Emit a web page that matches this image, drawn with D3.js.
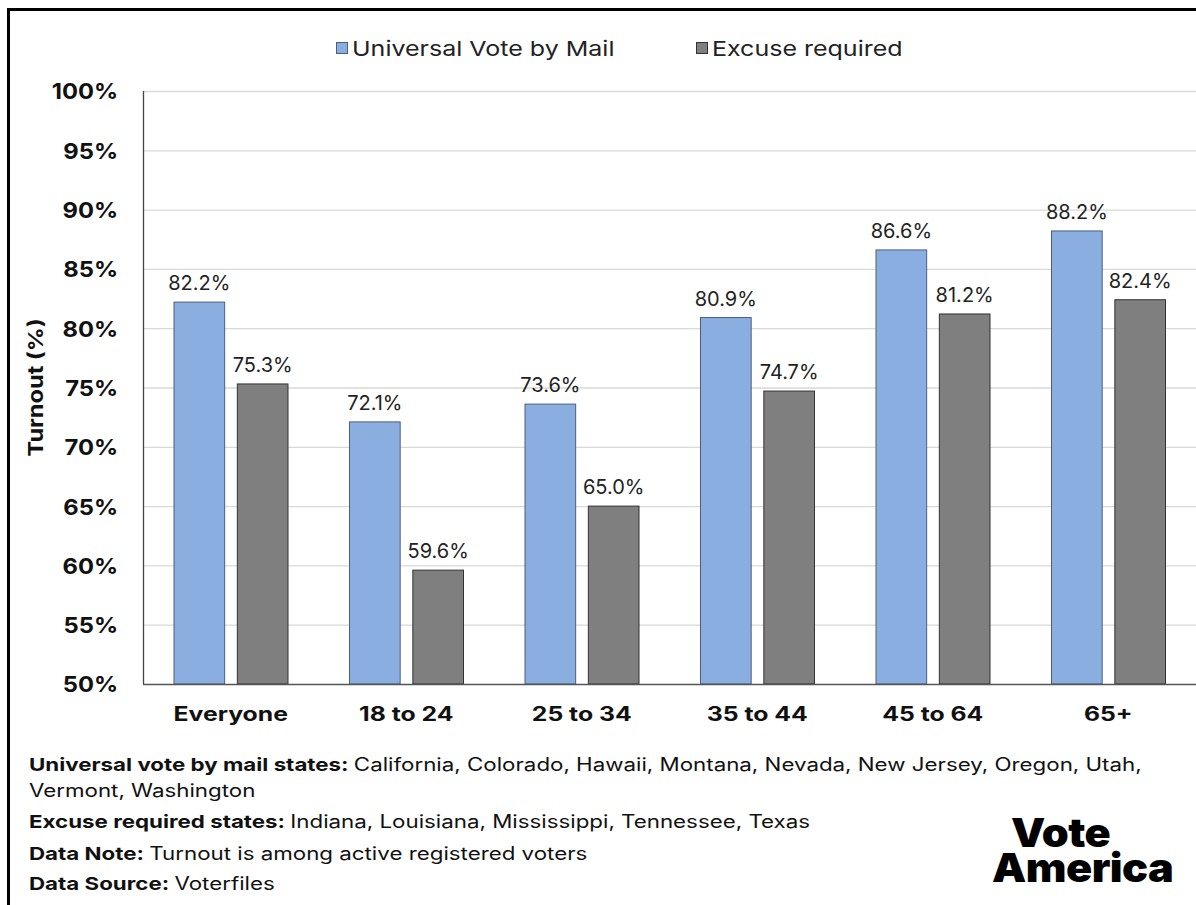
<!DOCTYPE html>
<html>
<head>
<meta charset="utf-8">
<script src="https://cdn.jsdelivr.net/npm/d3@7"></script>
<style>
  body { margin: 0; background: #fff; }
  svg text { font-family: Inter, "Noto Sans", Arial, sans-serif; }
</style>
</head>
<body>
<div id="chart"></div>
<script>
// chart data
const categories = ["Everyone", "18 to 24", "25 to 34", "35 to 44", "45 to 64", "65+"];
const seriesNames = ["Universal Vote by Mail", "Excuse required"];
const universalVbm = [82.2, 72.1, 73.6, 80.9, 86.6, 88.2];
const excuseRequired = [75.3, 59.6, 65.0, 74.7, 81.2, 82.4];
const yTicks = [50, 55, 60, 65, 70, 75, 80, 85, 90, 95, 100];
const seriesColors = ["#8aaee0", "#7f7f7f"];

const notes = [
  ["Universal vote by mail states: ", "California, Colorado, Hawaii, Montana, Nevada, New Jersey, Oregon, Utah,"],
  ["", "Vermont, Washington"],
  ["Excuse required states: ", "Indiana, Louisiana, Mississippi, Tennessee, Texas"],
  ["Data Note: ", "Turnout is among active registered voters"],
  ["Data Source: ", "Voterfiles"]
];

const W = 1196, H = 905;
const margin = { top: 91, right: 0, bottom: 221, left: 143 };
const plotW = W - margin.left - margin.right;
const plotH = H - margin.top - margin.bottom;

// source image is a bit stretched sideways, so text gets a horizontal scale
function wideText(parent, x, y, sx) {
    return parent.append("g")
        .attr("transform", `translate(${x},${y}) scale(${sx},1)`)
        .append("text");
}

const svg = d3.select("#chart").append("svg")
    .attr("width", W)
    .attr("height", H);

// outer frame (cut at right and bottom like the source image)
svg.append("rect")
    .attr("x", 8.5).attr("y", 9.5)
    .attr("width", W + 20).attr("height", H + 20)
    .attr("fill", "none")
    .attr("stroke", "#000")
    .attr("stroke-width", 3);

const g = svg.append("g").attr("transform", `translate(${margin.left},${margin.top})`);

const x0 = d3.scaleBand().domain(categories).range([0, plotW]).paddingInner(0).paddingOuter(0);
const x1 = d3.scaleBand().domain(seriesNames).range([31, 145]).paddingInner(0.2);
const y = d3.scaleLinear().domain([50, 100]).range([plotH, 0]);

// gridlines
g.selectAll(".grid")
    .data(yTicks.slice(1))
    .enter().append("line")
    .attr("x1", 0).attr("x2", plotW)
    .attr("y1", d => y(d) + 0.5).attr("y2", d => y(d) + 0.5)
    .attr("stroke", "#d9d9d9")
    .attr("stroke-width", 1.3);

// y tick labels
const tickSx = 1.08;
const yAxis = g.append("g")
    .call(d3.axisLeft(y).tickValues(yTicks).tickSize(0).tickPadding(25).tickFormat(d => d + "%"));
yAxis.select(".domain").remove();
yAxis.selectAll("text")
    .attr("x", -25 / tickSx)
    .attr("transform", `scale(${tickSx},1)`)
    .attr("font-size", 22)
    .attr("font-weight", 700)
    .attr("fill", "#111")
    .attr("dy", "0.36em");

// bars
const rows = categories.map((c, i) => ({ cat: c, vals: [universalVbm[i], excuseRequired[i]] }));
const groups = g.selectAll(".grp")
    .data(rows)
    .enter().append("g")
    .attr("transform", d => `translate(${x0(d.cat)},0)`);

groups.selectAll("rect")
    .data(d => d.vals.map((v, k) => ({ name: seriesNames[k], v: v, k: k })))
    .enter().append("rect")
    .attr("x", d => x1(d.name))
    .attr("y", d => y(d.v))
    .attr("width", x1.bandwidth())
    .attr("height", d => plotH - y(d.v))
    .attr("fill", d => seriesColors[d.k])
    .attr("stroke", d => d.k === 0 ? "#4a5f80" : "#333")
    .attr("stroke-width", 1);

groups.selectAll(".lbl")
    .data(d => d.vals.map((v, k) => ({ name: seriesNames[k], v: v })))
    .enter().append("text")
    .attr("x", d => x1(d.name) + x1.bandwidth() / 2)
    .attr("y", d => y(d.v) - 12)
    .attr("text-anchor", "middle")
    .attr("font-size", 20)
    .attr("fill", "#222")
    .text(d => d.v.toFixed(1) + "%");

// axis lines
g.append("line")
    .attr("x1", 0.5).attr("x2", 0.5)
    .attr("y1", 0).attr("y2", plotH)
    .attr("stroke", "#444").attr("stroke-width", 1.3);
g.append("line")
    .attr("x1", 0).attr("x2", plotW)
    .attr("y1", plotH + 0.5).attr("y2", plotH + 0.5)
    .attr("stroke", "#555").attr("stroke-width", 1.3);

// x labels
const xAxis = g.append("g")
    .attr("transform", `translate(0,${plotH})`)
    .call(d3.axisBottom(x0).tickSize(0).tickPadding(23));
xAxis.select(".domain").remove();
xAxis.selectAll("text")
    .attr("transform", "scale(1.27,1)")
    .attr("font-size", 19.5)
    .attr("font-weight", 700)
    .attr("fill", "#111");

// y title
svg.append("g")
    .attr("transform", `translate(43,${margin.top + plotH / 2}) rotate(-90) scale(1.15,1)`)
    .append("text")
    .attr("text-anchor", "middle")
    .attr("font-size", 20.5)
    .attr("font-weight", 700)
    .attr("fill", "#111")
    .text("Turnout (%)");

// legend
const legendX = [336, 696];
seriesNames.forEach((name, k) => {
    svg.append("rect")
        .attr("x", legendX[k] + 0.5).attr("y", 42.5)
        .attr("width", 11).attr("height", 11)
        .attr("fill", seriesColors[k])
        .attr("stroke", k === 0 ? "#4a5f80" : "#333");
    wideText(svg, legendX[k] + 16, 56, 1.22)
        .attr("font-size", 20.5)
        .attr("fill", "#222")
        .text(name);
});

// footnotes
const noteY = [771, 797, 828, 860, 890];
notes.forEach((line, i) => {
    const t = wideText(svg, 29, noteY[i], 1.24)
        .attr("font-size", 18)
        .attr("fill", "#111");
    if (line[0]) t.append("tspan").attr("font-weight", 700).text(line[0]);
    t.append("tspan").text(line[1]);
});

// logo
wideText(svg, 1011, 847, 1.08)
    .attr("font-size", 40).attr("font-weight", 900).attr("fill", "#000")
    .attr("letter-spacing", -0.5)
    .text("Vote");
wideText(svg, 992, 882, 1.08)
    .attr("font-size", 40).attr("font-weight", 900).attr("fill", "#000")
    .attr("letter-spacing", -0.5)
    .text("America");
</script>
</body>
</html>
